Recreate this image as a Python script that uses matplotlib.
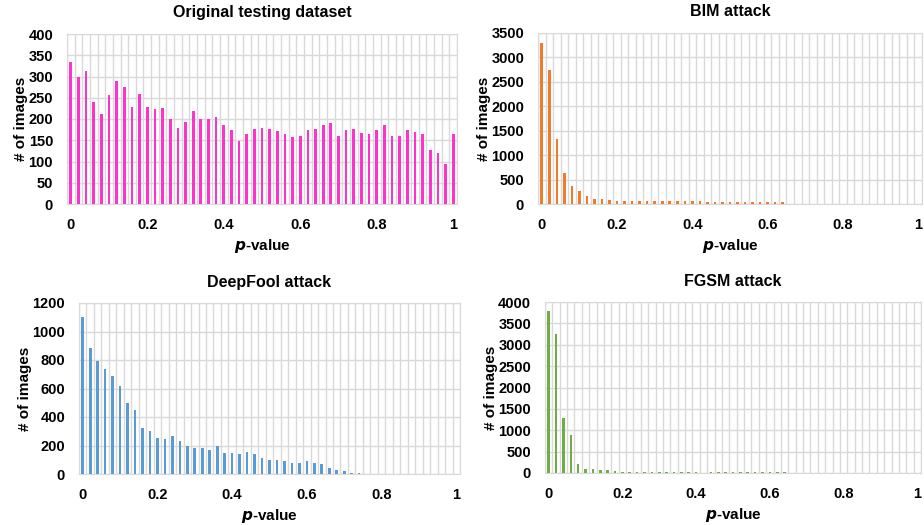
import numpy as np
import matplotlib
matplotlib.use("Agg")
import matplotlib.pyplot as plt

plt.rcParams["font.family"] = ["Liberation Sans", "DejaVu Sans"]
plt.rcParams["font.weight"] = "bold"

p_values = np.round(np.arange(51) * 0.02, 2)

original = [333, 300, 312, 240, 211, 257, 289, 276, 229, 259,
            229, 224, 226, 199, 178, 192, 219, 199, 199, 204,
            187, 173, 148, 164, 177, 180, 177, 172, 165, 157,
            159, 173, 177, 187, 190, 161, 175, 177, 168, 164,
            175, 187, 159, 159, 175, 169, 164, 127, 120, 95, 164]

bim = [3300, 2750, 1330, 640, 370, 270, 170, 100, 100, 85,
       70, 70, 70, 70, 70, 70, 70, 70, 60, 55,
       55, 55, 35, 35, 35, 35, 35, 35, 35, 35,
       35, 35, 35, 0, 0, 0, 0, 0, 0, 0,
       0, 0, 0, 0, 0, 0, 0, 0, 0, 0, 0]

deepfool = [1100, 885, 795, 740, 690, 620, 500, 450, 325, 305,
            250, 245, 270, 230, 200, 180, 185, 165, 200, 150,
            145, 140, 155, 140, 115, 100, 100, 90, 75, 75,
            90, 75, 70, 40, 25, 20, 8, 8, 0, 0,
            0, 0, 0, 0, 0, 0, 0, 0, 0, 0, 0]

fgsm = [3800, 3250, 1280, 900, 210, 100, 90, 75, 70, 45,
        25, 25, 25, 25, 25, 25, 25, 25, 25, 25,
        25, 0, 25, 25, 25, 25, 25, 25, 25, 25,
        25, 25, 25, 0, 0, 0, 0, 0, 0, 0,
        0, 0, 0, 0, 0, 0, 0, 0, 0, 0, 0]

panels = [
    ("Original testing dataset", original, "#FF33CC", 400, 50, [67, 34, 457, 204], 12),
    ("BIM attack", bim, "#F07B2A", 3500, 500, [538, 33, 922, 204], 12),
    ("DeepFool attack", deepfool, "#5B9BD5", 1200, 200, [79, 303, 460, 474], 282),
    ("FGSM attack", fgsm, "#70AD47", 4000, 500, [545, 302, 921, 473], 282),
]

W, H = 924, 525
fig = plt.figure(figsize=(W / 100, H / 100), dpi=100)

for title, vals, color, ymax, ystep, (x0, y0, x1, y1), ty in panels:
    ax = fig.add_axes([x0 / W, 1 - y1 / H, (x1 - x0) / W, (y1 - y0) / H])
    ax.bar(p_values, vals, width=0.007, color=color, zorder=3)
    ax.set_xlim(-0.01, 1.01)
    ax.set_ylim(0, ymax)
    ax.set_yticks(np.arange(0, ymax + 1, ystep))
    ax.set_xticks([0, 0.2, 0.4, 0.6, 0.8, 1])
    ax.set_xticklabels(["0", "0.2", "0.4", "0.6", "0.8", "1"])
    ax.set_xticks(np.arange(52) * 0.02 - 0.01, minor=True)
    ax.grid(True, which="minor", axis="x", color="#D9D9D9", lw=1, zorder=0)
    ax.grid(True, which="major", axis="y", color="#D9D9D9", lw=1, zorder=0)
    ax.tick_params(which="both", length=0, labelsize=10.5)
    ax.tick_params(axis="x", pad=10)
    ax.tick_params(axis="y", pad=10)
    for s in ax.spines.values():
        s.set_color("#D9D9D9")
    ax.set_xlabel(r"$\bf{\it{p}}$-value", fontsize=11, fontweight="bold", labelpad=4)
    ax.set_ylabel("# of images", fontsize=11, fontweight="bold", labelpad=0)
    fig.text((x0 + x1) / 2 / W, 1 - ty / H, title, ha="center", va="center",
             fontsize=11.5, fontweight="bold")

fig.savefig("out.png", dpi=100)
